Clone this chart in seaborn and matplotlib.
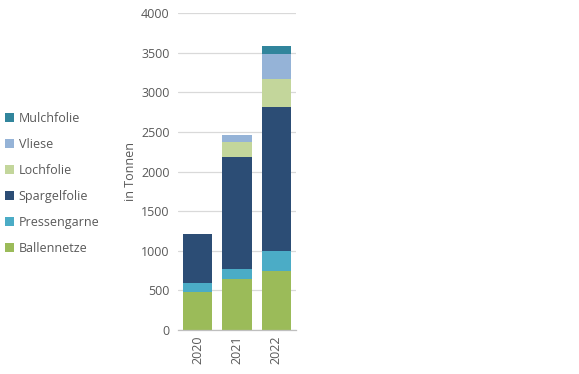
import numpy as np
import pandas as pd
import seaborn as sns
import matplotlib.pyplot as plt
from matplotlib.patches import Patch

# Werte aus dem Diagramm (in Tonnen)
jahre = ["2020", "2021", "2022"]
kategorien = ["Ballennetze", "Pressengarne", "Spargelfolie", "Lochfolie", "Vliese", "Mulchfolie"]
ballennetze = [485, 640, 748]
pressengarne = [105, 134, 249]
spargelfolie = [620, 1405, 1813]
lochfolie = [0, 193, 361]
vliese = [0, 85, 308]
mulchfolie = [0, 0, 111]
farben = ["#9BBB59", "#4BACC6", "#2C4D75", "#C3D69B", "#95B3D7", "#31859C"]

werte = [ballennetze, pressengarne, spargelfolie, lochfolie, vliese, mulchfolie]

sns.set_style("white")
plt.rcParams["font.family"] = ["Open Sans", "DejaVu Sans"]
text_farbe = "#595959"

fig = plt.figure(figsize=(5.79, 3.74), dpi=100)
ax = fig.add_axes([0.3074, 0.1176, 0.2038, 0.8476])

# kumulierte Summen, von oben nach unten zeichnen (ueberdecken)
kum = np.cumsum(np.array(werte), axis=0)
for i in range(len(kategorien) - 1, -1, -1):
    df = pd.DataFrame({"Jahr": jahre, "Summe": kum[i]})
    sns.barplot(data=df, x="Jahr", y="Summe", color=farben[i], saturation=1,
                width=0.75, ax=ax, errorbar=None, linewidth=0, edgecolor="none")

ax.set_ylim(0, 4000)
ax.set_xlim(-0.5, 2.5)
ax.set_yticks(range(0, 4001, 500))
ax.yaxis.grid(True, color="#D9D9D9", linewidth=0.9)
ax.set_axisbelow(True)
for s in ["left", "right", "top"]:
    ax.spines[s].set_visible(False)
ax.spines["bottom"].set_color("#BFBFBF")
ax.spines["bottom"].set_linewidth(0.9)

ax.set_xlabel("")
ax.set_ylabel("in Tonnen", fontsize=9, color=text_farbe, labelpad=3)
ax.tick_params(axis="y", length=0, labelsize=9, labelcolor=text_farbe, pad=6)
ax.set_xticks([0, 1, 2])
ax.set_xticklabels(jahre, rotation=90, fontsize=9, color=text_farbe)
ax.tick_params(axis="x", length=0, pad=4)
# Excel-typische Trennstriche zwischen Kategorien
ax.set_xticks([-0.5, 0.5, 1.5, 2.5], minor=True)
ax.tick_params(axis="x", which="minor", length=4, color="#BFBFBF", width=0.9)

handles = [Patch(facecolor=farben[i], edgecolor="none", label=kategorien[i])
           for i in range(len(kategorien) - 1, -1, -1)]
fig.legend(handles=handles, loc="upper left", bbox_to_anchor=(0.0, 0.715),
           frameon=False, fontsize=9, labelcolor=text_farbe,
           handlelength=0.7, handleheight=0.7, handletextpad=0.4,
           labelspacing=1.05, borderaxespad=0)

fig.savefig("out.png", dpi=100)
